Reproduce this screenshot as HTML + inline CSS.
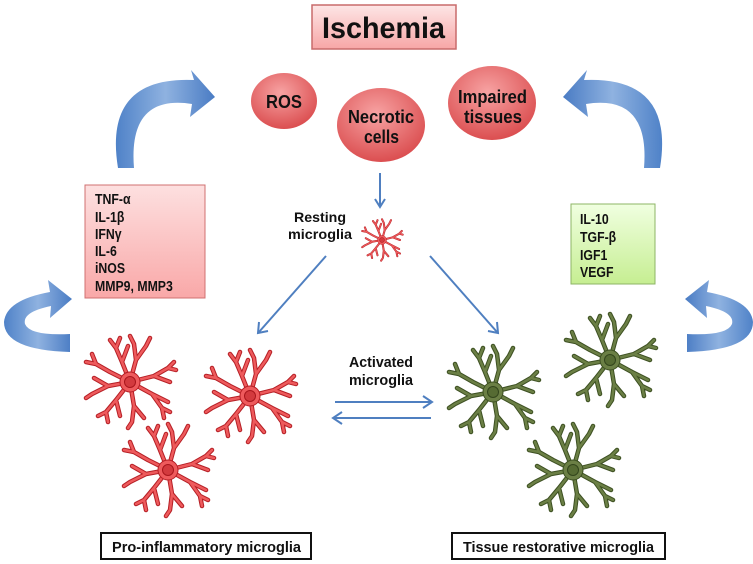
<!DOCTYPE html>
<html><head><meta charset="utf-8"><style>
html,body{margin:0;padding:0;background:#fff}
svg{display:block}
text{font-family:"Liberation Sans",Arial,sans-serif;font-weight:bold}
</style></head><body>
<svg width="753" height="564" viewBox="0 0 753 564" xmlns="http://www.w3.org/2000/svg">
<defs>
<radialGradient id="rc" cx="0.45" cy="0.35" r="0.7"><stop offset="0" stop-color="#f7a3a3"/><stop offset="1" stop-color="#d9484a"/></radialGradient>
<linearGradient id="pb" x1="0" y1="0" x2="0" y2="1"><stop offset="0" stop-color="#fde6e6"/><stop offset="1" stop-color="#f7a6a6"/></linearGradient>
<linearGradient id="lb" x1="0" y1="0" x2="0" y2="1"><stop offset="0" stop-color="#fde0e0"/><stop offset="1" stop-color="#f9a8a8"/></linearGradient>
<linearGradient id="gb" x1="0" y1="0" x2="0" y2="1"><stop offset="0" stop-color="#f0ffe0"/><stop offset="1" stop-color="#c6ee92"/></linearGradient>
<linearGradient id="bl" x1="0" y1="0" x2="1" y2="0"><stop offset="0" stop-color="#4f82c8"/><stop offset="0.5" stop-color="#8fb2e0"/><stop offset="1" stop-color="#4a7cc4"/></linearGradient>
<g id="cellb">
<path d="M0,0 L-8,-20 L-14,-34 M-8,-20 L-2,-36 M-14,-34 L-20,-42 M-14,-34 L-10,-44
M0,0 L6,-22 L4,-38 M6,-22 L16,-36 M16,-36 L20,-44 M4,-38 L0,-46
M0,0 L24,-6 L38,-14 M24,-6 L40,0 M38,-14 L44,-20 M38,-14 L46,-12
M0,0 L22,12 L32,26 M22,12 L38,20 M32,26 L34,36 M32,26 L40,30
M0,0 L4,24 L2,40 M4,24 L14,36 M2,40 L-2,46
M0,0 L-14,18 L-24,30 M-14,18 L-10,34 M-24,30 L-22,40 M-24,30 L-32,34
M0,0 L-22,4 L-38,12 M-22,4 L-36,-4 M-38,12 L-44,16
M0,0 L-20,-10 L-34,-18 M-34,-18 L-44,-20 M-34,-18 L-38,-28" fill="none"/>
</g>
<g id="cellR"><use href="#cellb" stroke="#b51f25" stroke-width="4.5" stroke-linecap="round" stroke-linejoin="round"/><use href="#cellb" stroke="#ee5a5c" stroke-width="2.5" stroke-linecap="round" stroke-linejoin="round"/><circle r="10" fill="#ee5a5c" stroke="#b51f25" stroke-width="1"/><circle r="5.5" fill="#d33a3e" stroke="#a9161c" stroke-width="1"/></g>
<g id="cellG"><use href="#cellb" stroke="#3d5022" stroke-width="4.5" stroke-linecap="round" stroke-linejoin="round"/><use href="#cellb" stroke="#6b7f45" stroke-width="2.5" stroke-linecap="round" stroke-linejoin="round"/><circle r="10" fill="#6b7f45" stroke="#3d5022" stroke-width="1"/><circle r="5.5" fill="#566b33" stroke="#33461c" stroke-width="1"/></g>
<g id="arTL"><path d="M118,168 Q103,76 194,80 L191,70 L215,97 L190,117 L192,104 Q128,94 134,168 Z" fill="url(#bl)"/></g>
<g id="arBL"><path d="M70,334 L70,352 Q4,350 4,322 Q6,300 50,292 L48,280 L72,299 L50,318 L51,306 Q22,312 25,324 Q30,336 70,334 Z" fill="url(#bl)"/></g>
</defs>

<rect x="312" y="5" width="144" height="44" fill="url(#pb)" stroke="#c86b6b" stroke-width="1.5"/>
<text x="322" y="38" font-size="30" textLength="123" lengthAdjust="spacingAndGlyphs" fill="#111">Ischemia</text>

<use href="#arTL"/>
<use href="#arTL" transform="translate(778,0) scale(-1,1)"/>
<use href="#arBL"/>
<use href="#arBL" transform="translate(757,0) scale(-1,1)"/>

<ellipse cx="284" cy="101" rx="33" ry="28" fill="url(#rc)"/>
<text x="266" y="108" font-size="18" textLength="36" lengthAdjust="spacingAndGlyphs" fill="#111">ROS</text>
<ellipse cx="381" cy="125" rx="44" ry="37" fill="url(#rc)"/>
<text x="348" y="123" font-size="18" textLength="66" lengthAdjust="spacingAndGlyphs" fill="#111">Necrotic</text>
<text x="364" y="143" font-size="18" textLength="35" lengthAdjust="spacingAndGlyphs" fill="#111">cells</text>
<ellipse cx="492" cy="103" rx="44" ry="37" fill="url(#rc)"/>
<text x="458" y="103" font-size="18" textLength="69" lengthAdjust="spacingAndGlyphs" fill="#111">Impaired</text>
<text x="464" y="123" font-size="18" textLength="58" lengthAdjust="spacingAndGlyphs" fill="#111">tissues</text>

<g stroke="#4f7fc0" stroke-width="2" fill="none">
<line x1="380" y1="173" x2="380" y2="206"/><path d="M375,199 L380,207 L385,199"/>
<line x1="326" y1="256" x2="259" y2="332"/><path d="M259,322 L258,333 L268,331"/>
<line x1="430" y1="256" x2="497" y2="332"/><path d="M488,331 L498,333 L497,322"/>
<line x1="335" y1="402" x2="431" y2="402"/><path d="M423,396 L432,402 L423,408"/>
<line x1="334" y1="418" x2="431" y2="418"/><path d="M342,412 L333,418 L342,424"/>
</g>

<text x="294" y="222" font-size="14" textLength="52" lengthAdjust="spacingAndGlyphs" fill="#111">Resting</text>
<text x="288" y="239" font-size="14" textLength="64" lengthAdjust="spacingAndGlyphs" fill="#111">microglia</text>
<g transform="translate(382,240) scale(0.45)"><use href="#cellR"/></g>

<rect x="85" y="185" width="120" height="113" fill="url(#lb)" stroke="#d07070" stroke-width="1"/>
<g font-size="15" fill="#111" transform="translate(95,0) scale(0.82,1)">
<text x="0" y="204">TNF-α</text><text x="0" y="222">IL-1β</text><text x="0" y="239">IFNγ</text>
<text x="0" y="256">IL-6</text><text x="0" y="273">iNOS</text><text x="0" y="291">MMP9, MMP3</text>
</g>
<rect x="571" y="204" width="84" height="80" fill="url(#gb)" stroke="#8db466" stroke-width="1"/>
<g font-size="15" fill="#111" transform="translate(580,0) scale(0.82,1)">
<text x="0" y="224">IL-10</text><text x="0" y="242">TGF-β</text><text x="0" y="260">IGF1</text><text x="0" y="277">VEGF</text>
</g>

<text x="349" y="367" font-size="15" textLength="64" lengthAdjust="spacingAndGlyphs" fill="#111">Activated</text>
<text x="349" y="385" font-size="15" textLength="64" lengthAdjust="spacingAndGlyphs" fill="#111">microglia</text>

<g transform="translate(130,382)"><use href="#cellR"/></g>
<g transform="translate(250,396)"><use href="#cellR"/></g>
<g transform="translate(168,470)"><use href="#cellR"/></g>
<g transform="translate(493,392)"><use href="#cellG"/></g>
<g transform="translate(610,360)"><use href="#cellG"/></g>
<g transform="translate(573,470)"><use href="#cellG"/></g>

<rect x="101" y="533" width="210" height="26" fill="#fff" stroke="#111" stroke-width="2"/>
<text x="112" y="552" font-size="15" textLength="189" lengthAdjust="spacingAndGlyphs" fill="#111">Pro-inflammatory  microglia</text>
<rect x="452" y="533" width="213" height="26" fill="#fff" stroke="#111" stroke-width="2"/>
<text x="463" y="552" font-size="15" textLength="191" lengthAdjust="spacingAndGlyphs" fill="#111">Tissue restorative microglia</text>
</svg>
</body></html>
